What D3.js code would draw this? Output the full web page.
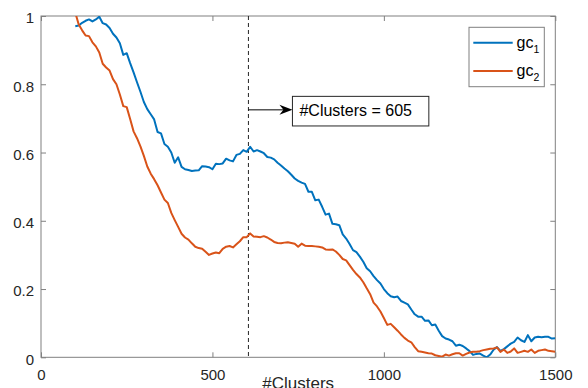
<!DOCTYPE html>
<meta charset="utf-8">
<style>

body {
  margin: 0;
  background: #fff;
}

.tick text {
  font: 15px "Liberation Sans", Arial, sans-serif;
  fill: #262626;
}

.tick line {
  stroke: #808080;
}

.series {
  fill: none;
  stroke-width: 2px;
  stroke-linejoin: round;
}

</style>
<svg width="588" height="388"></svg>
<script src="https://cdn.jsdelivr.net/npm/d3@7"></script>
<script>

// number of clusters on the x axis, every 10 from 100 to 1500
var clusters = d3.range(100, 1501, 10)

var gc1 = [
  0.970, 0.972, 0.980, 0.986, 0.990, 0.984, 0.990, 0.998, 0.979, 0.975,
  0.965, 0.948, 0.937, 0.920, 0.886, 0.891, 0.862, 0.835, 0.806, 0.778,
  0.748, 0.727, 0.712, 0.697, 0.660, 0.656, 0.625, 0.617, 0.600, 0.570,
  0.586, 0.558, 0.551, 0.549, 0.546, 0.547, 0.548, 0.560, 0.559, 0.557,
  0.551, 0.567, 0.566, 0.568, 0.582, 0.577, 0.574, 0.593, 0.596, 0.607,
  0.602, 0.617, 0.603, 0.607, 0.603, 0.598, 0.587, 0.585, 0.580, 0.570,
  0.562, 0.553, 0.545, 0.535, 0.524, 0.517, 0.512, 0.508, 0.485, 0.485,
  0.460, 0.462, 0.441, 0.418, 0.421, 0.391, 0.390, 0.387, 0.360, 0.348,
  0.332, 0.314, 0.308, 0.295, 0.280, 0.261, 0.252, 0.238, 0.226, 0.216,
  0.200, 0.188, 0.179, 0.176, 0.178, 0.165, 0.160, 0.155, 0.140, 0.126,
  0.119, 0.119, 0.107, 0.108, 0.094, 0.096, 0.078, 0.062, 0.055, 0.052,
  0.047, 0.034, 0.037, 0.033, 0.026, 0.018, 0.007, 0.010, 0.011, 0.005,
  0.000, 0.008, 0.022, 0.030, 0.019, 0.024, 0.032, 0.040, 0.045, 0.058,
  0.050, 0.045, 0.065, 0.047, 0.058, 0.060, 0.059, 0.060, 0.060, 0.055,
  0.056
]

var gc2 = [
  1.010, 0.975, 0.958, 0.943, 0.941, 0.923, 0.911, 0.893, 0.860, 0.849,
  0.840, 0.815, 0.800, 0.770, 0.736, 0.733, 0.698, 0.662, 0.642, 0.618,
  0.590, 0.559, 0.538, 0.522, 0.504, 0.483, 0.462, 0.452, 0.423, 0.402,
  0.382, 0.362, 0.351, 0.345, 0.334, 0.324, 0.320, 0.318, 0.309, 0.300,
  0.304, 0.307, 0.305, 0.318, 0.324, 0.326, 0.322, 0.331, 0.340, 0.352,
  0.352, 0.363, 0.354, 0.353, 0.352, 0.355, 0.351, 0.345, 0.338, 0.335,
  0.334, 0.336, 0.337, 0.335, 0.333, 0.324, 0.333, 0.327, 0.326, 0.326,
  0.325, 0.324, 0.322, 0.316, 0.315, 0.316, 0.310, 0.300, 0.288, 0.284,
  0.270, 0.256, 0.244, 0.234, 0.220, 0.202, 0.185, 0.160, 0.149, 0.134,
  0.115, 0.095, 0.098, 0.088, 0.078, 0.067, 0.057, 0.049, 0.044, 0.030,
  0.018, 0.016, 0.014, 0.012, 0.011, 0.006, 0.004, 0.002, 0.008, 0.005,
  0.009, 0.012, 0.012, 0.005, 0.010, 0.014, 0.016, 0.016, 0.018, 0.021,
  0.023, 0.025, 0.026, 0.029, 0.016, 0.023, 0.013, 0.017, 0.026, 0.013,
  0.016, 0.019, 0.016, 0.023, 0.013, 0.019, 0.021, 0.023, 0.019, 0.018,
  0.016
]

var seriesNames = ["gc", "gc"]
var seriesSubs = ["1", "2"]
var seriesColors = ["#0072BD", "#D95319"]

var xTicks = [0, 500, 1000, 1500]
var yTicks = [0, 0.2, 0.4, 0.6, 0.8, 1]

var peakX = 605
var annotationText = "#Clusters = 605"
var xLabel = "#Clusters"

var svg = d3.select("svg")

// plot box in pixels (note: "top" is taken by window.top)
var pLeft = 41, pRight = 555.3, pTop = 16, pBottom = 357.3

var x = d3.scaleLinear().domain([0, 1500]).range([pLeft, pRight])
var y = d3.scaleLinear().domain([0, 1]).range([pBottom, pTop])

svg.append("clipPath").attr("id", "plot-clip")
  .append("rect")
    .attr("x", pLeft).attr("y", pTop)
    .attr("width", pRight - pLeft).attr("height", pBottom - pTop)

// axes, ticks pointing inwards (box on)
var yFmt = function(d) { return String(+d.toFixed(1)) }

svg.append("g")
    .attr("transform", "translate(0," + pBottom + ")")
    .call(d3.axisBottom(x).tickValues(xTicks).tickSize(-5).tickPadding(12).tickFormat(d3.format("d")))
    .call(function(g) { g.select(".domain").remove() })

svg.append("g")
    .attr("transform", "translate(0," + pTop + ")")
    .call(d3.axisTop(x).tickValues(xTicks).tickSize(-5).tickFormat(""))
    .call(function(g) { g.select(".domain").remove() })

svg.append("g")
    .attr("transform", "translate(" + pLeft + ",0)")
    .call(d3.axisLeft(y).tickValues(yTicks).tickSize(-5).tickPadding(7).tickFormat(yFmt))
    .call(function(g) {
      g.select(".domain").remove()
      g.selectAll("text").attr("dy", "0.45em")
    })

svg.append("g")
    .attr("transform", "translate(" + pRight + ",0)")
    .call(d3.axisRight(y).tickValues(yTicks).tickSize(-5).tickFormat(""))
    .call(function(g) { g.select(".domain").remove() })

svg.append("rect")
    .attr("x", pLeft).attr("y", pTop)
    .attr("width", pRight - pLeft).attr("height", pBottom - pTop)
    .attr("fill", "none")
    .attr("stroke", "#808080")
    .attr("stroke-width", 1)

// dashed marker
svg.append("line")
    .attr("x1", x(peakX)).attr("x2", x(peakX))
    .attr("y1", pTop).attr("y2", pBottom)
    .attr("stroke", "#262626")
    .attr("stroke-width", 1)
    .attr("stroke-dasharray", "4,3")

// curves
var line = d3.line()
    .x(function(d, i) { return x(clusters[i]) })
    .y(function(d) { return y(d) })

svg.append("g")
    .attr("clip-path", "url(#plot-clip)")
  .selectAll("path")
  .data([gc1, gc2])
  .enter().append("path")
    .attr("class", "series")
    .attr("stroke", function(d, i) { return seriesColors[i] })
    .attr("d", line)

// annotation arrow + box
var ay = y(0.725)
var ax0 = x(peakX), ax1 = ax0 + 44
svg.append("line")
    .attr("x1", ax0).attr("x2", ax1 - 8)
    .attr("y1", ay).attr("y2", ay)
    .attr("stroke", "#000")
    .attr("stroke-width", 1)
svg.append("path")
    .attr("d", "M" + ax1 + "," + ay
      + "L" + (ax1 - 13) + "," + (ay - 5)
      + "L" + (ax1 - 9) + "," + ay
      + "L" + (ax1 - 13) + "," + (ay + 5) + "Z")
    .attr("fill", "#000")

svg.append("rect")
    .attr("x", ax1).attr("y", ay - 13.5)
    .attr("width", 136.4).attr("height", 29.6)
    .attr("fill", "#fff")
    .attr("stroke", "#262626")
    .attr("stroke-width", 1)
svg.append("text")
    .attr("x", ax1 + 7).attr("y", ay + 6.5)
    .style("font", "16px 'Liberation Sans', Arial, sans-serif")
    .attr("fill", "#000")
    .text(annotationText)

// legend
var legend = svg.append("g")
legend.append("rect")
    .attr("x", 469).attr("y", 27.3)
    .attr("width", 75.3).attr("height", 59.4)
    .attr("fill", "#fff")
    .attr("stroke", "#808080")
    .attr("stroke-width", 1)

var item = legend.selectAll(".item")
  .data(seriesNames)
  .enter().append("g")
    .attr("transform", function(d, i) { return "translate(0," + (42.7 + i * 28.3) + ")" })

item.append("line")
    .attr("x1", 473.3).attr("x2", 512.7)
    .attr("stroke", function(d, i) { return seriesColors[i] })
    .attr("stroke-width", 2)

var lt = item.append("text")
    .attr("x", 516.5).attr("y", 5.3)
    .style("font", "16px 'Liberation Sans', Arial, sans-serif")
    .attr("fill", "#000")
lt.append("tspan").text(function(d) { return d })
lt.append("tspan")
    .attr("dy", 5)
    .style("font-size", "10.5px")
    .text(function(d, i) { return seriesSubs[i] })

// x label
svg.append("text")
    .attr("x", (pLeft + pRight) / 2)
    .attr("y", 389)
    .attr("text-anchor", "middle")
    .style("font", "17px 'Liberation Sans', Arial, sans-serif")
    .attr("fill", "#262626")
    .text(xLabel)

</script>
